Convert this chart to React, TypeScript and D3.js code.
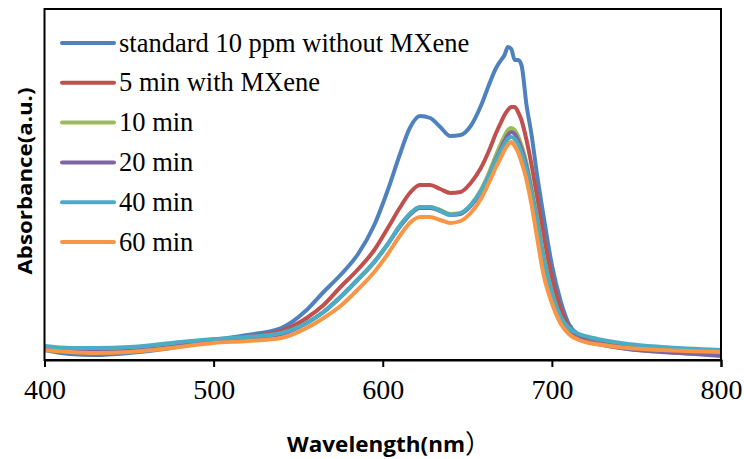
import React, { useEffect, useRef } from "react";
import * as d3 from "d3";

// wavelength grid (nm)
const wavelengths = [
  400, 415, 430, 450, 475, 500, 520, 540, 555, 565, 575, 585, 595, 603, 610, 616, 622, 628, 634, 640,
  646, 652, 658, 663, 667, 670, 672, 674, 676, 678, 680, 682, 685, 688, 691, 695, 700, 705, 710, 716,
  722, 730, 745, 765, 800,
];

const standard = [
  0.1, 0.06, 0.05, 0.07, 0.12, 0.2, 0.25, 0.32, 0.5, 0.68, 0.85, 1.05, 1.35, 1.7, 2.05, 2.32, 2.44, 2.42, 2.33, 2.24,
  2.25, 2.34, 2.54, 2.76, 2.92, 3.0, 3.05, 3.13, 3.11, 3.0, 3.0, 2.95, 2.55, 2.25, 1.88, 1.45, 0.95, 0.6, 0.36, 0.25,
  0.19, 0.17, 0.13, 0.09, 0.04,
];
const min5 = [
  0.11, 0.09, 0.08, 0.09, 0.13, 0.19, 0.23, 0.29, 0.42, 0.55, 0.73, 0.9, 1.1, 1.32, 1.52, 1.67, 1.75, 1.75, 1.71, 1.67,
  1.68, 1.77, 1.92, 2.1, 2.27, 2.38, 2.45, 2.5, 2.53, 2.53, 2.48, 2.4, 2.2, 1.95, 1.65, 1.25, 0.82, 0.52, 0.33, 0.23,
  0.19, 0.16, 0.13, 0.1, 0.05,
];
const min10 = [
  0.12, 0.1, 0.09, 0.1, 0.14, 0.19, 0.22, 0.26, 0.37, 0.48, 0.63, 0.8, 0.98, 1.16, 1.34, 1.46, 1.53, 1.53, 1.5, 1.46,
  1.47, 1.55, 1.7, 1.88, 2.05, 2.17, 2.24, 2.3, 2.32, 2.3, 2.24, 2.15, 1.97, 1.72, 1.45, 1.05, 0.68, 0.43, 0.3, 0.22,
  0.18, 0.15, 0.11, 0.08, 0.06,
];
const min20 = [
  0.11, 0.09, 0.08, 0.09, 0.13, 0.19, 0.22, 0.26, 0.37, 0.48, 0.63, 0.8, 0.98, 1.16, 1.33, 1.45, 1.52, 1.52, 1.49, 1.45,
  1.46, 1.54, 1.68, 1.85, 2.01, 2.12, 2.19, 2.25, 2.28, 2.26, 2.2, 2.11, 1.93, 1.68, 1.41, 1.02, 0.66, 0.42, 0.29, 0.22,
  0.18, 0.15, 0.11, 0.08, 0.05,
];
const min40 = [
  0.14, 0.12, 0.12, 0.13, 0.17, 0.21, 0.23, 0.27, 0.37, 0.48, 0.63, 0.8, 0.98, 1.16, 1.34, 1.46, 1.53, 1.53, 1.49, 1.45,
  1.47, 1.55, 1.69, 1.85, 2.0, 2.1, 2.16, 2.21, 2.23, 2.21, 2.16, 2.07, 1.9, 1.66, 1.4, 1.02, 0.67, 0.44, 0.32, 0.26,
  0.23, 0.2, 0.16, 0.13, 0.1,
];
const min60 = [
  0.1, 0.08, 0.07, 0.08, 0.12, 0.17, 0.19, 0.22, 0.32, 0.42, 0.54, 0.7, 0.88, 1.06, 1.24, 1.37, 1.43, 1.43, 1.4, 1.37,
  1.39, 1.47, 1.61, 1.78, 1.93, 2.03, 2.1, 2.15, 2.18, 2.14, 2.08, 1.98, 1.8, 1.55, 1.25, 0.86, 0.57, 0.37, 0.26, 0.2,
  0.17, 0.15, 0.12, 0.1, 0.08,
];

const seriesNames = [
  "standard 10 ppm without MXene",
  "5 min with MXene",
  "10 min",
  "20 min",
  "40 min",
  "60 min",
];
const seriesValues = [standard, min5, min10, min20, min40, min60];
const colors = ["#4F81BD", "#C0504D", "#9BBB59", "#8064A2", "#4BACC6", "#F79646"];
const xTicks = [400, 500, 600, 700, 800];

const App = () => {
  const ref = useRef<SVGSVGElement | null>(null);

  useEffect(() => {
    const width = 744;
    const height = 459;
    const left = 44.5;
    const right = 721;
    const top = 9;
    const bottom = 360;

    const svg = d3.select(ref.current).attr("viewBox", [0, 0, width, height].join(" "));
    svg.selectAll("*").remove();

    const x = d3.scaleLinear().domain([400, 800]).range([left, right]);
    const y = d3.scaleLinear().domain([0, 3.51]).range([bottom, top]);

    const line = d3
      .line<number>()
      .x((d, i) => x(wavelengths[i]))
      .y((d) => y(d))
      .curve(d3.curveMonotoneX);

    svg
      .append("defs")
      .append("clipPath")
      .attr("id", "plot")
      .append("rect")
      .attr("x", left)
      .attr("y", top)
      .attr("width", right - left)
      .attr("height", bottom - top);

    svg
      .append("g")
      .attr("clip-path", "url(#plot)")
      .selectAll("path")
      .data(seriesValues)
      .join("path")
      .attr("d", (d) => line(d))
      .attr("fill", "none")
      .attr("stroke", (d, i) => colors[i])
      .attr("stroke-width", 4)
      .attr("stroke-linejoin", "round");

    // frame
    svg
      .append("rect")
      .attr("x", left)
      .attr("y", top)
      .attr("width", right - left)
      .attr("height", bottom - top)
      .attr("fill", "none")
      .attr("stroke", "#000")
      .attr("stroke-width", 2);

    const xAxis = svg
      .append("g")
      .attr("transform", `translate(0,${bottom})`)
      .call(d3.axisBottom(x).tickValues(xTicks).tickSize(7).tickPadding(12).tickFormat(d3.format("d")));
    xAxis.select(".domain").attr("stroke-width", 2);
    xAxis.selectAll("line").attr("stroke-width", 2);
    xAxis
      .selectAll("text")
      .attr("font-family", "'Liberation Serif', 'Times New Roman', serif")
      .attr("font-size", 28)
      .attr("fill", "#000");

    // legend
    const legend = svg
      .append("g")
      .selectAll("g")
      .data(seriesNames)
      .join("g")
      .attr("transform", (d, i) => `translate(0,${43 + i * 39.8})`);
    legend
      .append("line")
      .attr("x1", 62)
      .attr("x2", 114)
      .attr("stroke", (d, i) => colors[i])
      .attr("stroke-width", 4)
      .attr("stroke-linecap", "round");
    legend
      .append("text")
      .attr("x", 119)
      .attr("y", 8.5)
      .attr("font-family", "'Liberation Serif', 'Times New Roman', serif")
      .attr("font-size", 26.5)
      .text((d) => d);

    // axis titles
    const xTitle = svg
      .append("text")
      .attr("x", 287)
      .attr("y", 452)
      .attr("font-family", "'Open Sans', 'Noto Sans', sans-serif")
      .attr("font-weight", "bold")
      .attr("font-size", 21);
    xTitle.append("tspan").attr("textLength", 178).attr("lengthAdjust", "spacingAndGlyphs").text("Wavelength(nm");
    xTitle
      .append("tspan")
      .attr("font-family", "'Noto Sans CJK SC'")
      .attr("font-weight", "normal")
      .attr("font-size", 26)
      .attr("dy", 1)
      .text("）");

    svg
      .append("text")
      .attr("transform", "translate(32,181) rotate(-90)")
      .attr("text-anchor", "middle")
      .attr("font-family", "'Open Sans', 'Noto Sans', sans-serif")
      .attr("font-weight", "bold")
      .attr("font-size", 20)
      .attr("textLength", 187)
      .attr("lengthAdjust", "spacingAndGlyphs")
      .text("Absorbance(a.u.)");
  }, []);

  return (
    <svg
      ref={ref}
      width={744}
      height={459}
      style={{ position: "absolute", left: 0, top: 0, background: "#fff" }}
    ></svg>
  );
};

export default App;
